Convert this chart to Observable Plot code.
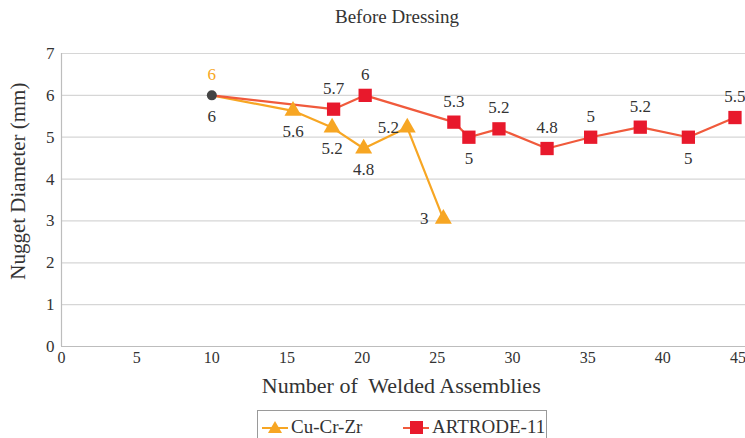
<!DOCTYPE html>
<html><head><meta charset="utf-8">
<script src="https://cdn.jsdelivr.net/npm/d3@7"></script>
<script src="https://cdn.jsdelivr.net/npm/@observablehq/plot@0.6"></script>
<style>
body{margin:0;background:#fff;font-family:"Liberation Serif","DejaVu Serif",serif;}
#wrap{position:relative;width:745px;height:438px;overflow:hidden;background:#fff;}
#title{position:absolute;left:0;top:0;width:745px;height:32px;line-height:34px;text-align:center;font-size:19px;color:#333;padding-left:49px;box-sizing:border-box;}
#chart{position:absolute;left:0;top:36px;}
#chart svg, #chart svg text, #chart svg g{font-family:"Liberation Serif","DejaVu Serif",serif !important;font-variant:normal !important;font-variant-numeric:normal !important;}
#legend{position:absolute;left:257px;top:410px;width:290px;height:40px;border:1px solid #9a9a9a;box-sizing:border-box;font-size:19px;color:#333;}
.item{position:absolute;top:4px;display:flex;align-items:center;height:24px;}
.item svg{margin-right:3px;}
</style>
</head><body>
<div id="wrap">
  <div id="title">Before Dressing</div>
  <div id="chart"></div>
  <div id="legend">
    <div class="item" style="left:4px"><svg width="26" height="20"><line x1="0" y1="11" x2="26" y2="11" stroke="#f7a623" stroke-width="2"/><path d="M13,4 L20,16 L6,16 Z" fill="#f7a623"/></svg><span>Cu-Cr-Zr</span></div>
    <div class="item" style="left:145px"><svg width="26" height="20"><line x1="0" y1="11" x2="26" y2="11" stroke="#f05a3c" stroke-width="2"/><rect x="7" y="4" width="13" height="13" fill="#e8192c"/></svg><span>ARTRODE-11</span></div>
  </div>
</div>
<script>
// Cu-Cr-Zr series
const cuX = [10, 15.4, 18.0, 20.1, 23.0, 25.4];
const cuY = [6, 5.63, 5.23, 4.73, 5.23, 3.05];
const cuLabels = ["6", "5.6", "5.2", "4.8", "5.2", "3"];
const cuLabelSide = ["above", "below", "below", "below", "left", "left"];
// ARTRODE-11 series
const arX = [10, 18.1, 20.2, 26.1, 27.1, 29.1, 32.3, 35.2, 38.5, 41.7, 44.8];
const arY = [6, 5.67, 6.0, 5.36, 5.0, 5.2, 4.73, 5.0, 5.24, 5.0, 5.47];
const arLabels = ["6", "5.7", "6", "5.3", "5", "5.2", "4.8", "5", "5.2", "5", "5.5"];
const arLabelSide = ["below", "above", "above", "above", "below", "above", "above", "above", "above", "below", "above"];
// axes
const xTicks = [0, 5, 10, 15, 20, 25, 30, 35, 40, 45];
const yTicks = [0, 1, 2, 3, 4, 5, 6, 7];
const xTitle = "Number of\u00a0 Welded Assemblies";
const yTitle = "Nugget Diameter (mm)";

const ORANGE = "#f7a623", RED = "#e8192c", REDLINE = "#f05a3c", TXT = "#333";
const FONT = "Liberation Serif, DejaVu Serif, serif";

const cu = cuX.map((x, i) => ({x, y: cuY[i], label: cuLabels[i], side: cuLabelSide[i], i}));
const ar = arX.map((x, i) => ({x, y: arY[i], label: arLabels[i], side: arLabelSide[i], i}));

const offs = {above: [0, -21], below: [0, 21], left: [-19, 0]};
function labelMarks(data, fillFn) {
  return Object.entries(offs).map(([side, [dx, dy]]) =>
    Plot.text(data.filter(d => d.side === side), {
      x: "x", y: "y", text: "label", dx, dy,
      fill: fillFn === undefined ? TXT : fillFn,
      fontSize: 17, fontFamily: FONT, fontVariant: "normal", textAnchor: "middle", lineAnchor: "middle"
    }));
}

const chart = Plot.plot({
  width: 745,
  height: 364,
  marginLeft: 61,
  marginRight: 0,
  marginTop: 17,
  marginBottom: 54,
  style: {fontFamily: FONT, background: "#fff", overflow: "visible"},
  x: {domain: [0, 45.5], axis: null},
  y: {domain: [0, 7], axis: null},
  marks: [
    Plot.ruleY(yTicks.filter(v => v > 0), {stroke: "#d6d6d6", strokeWidth: 1.2}),
    Plot.ruleY([0], {stroke: "#bdbdbd", strokeWidth: 1.2}),
    Plot.ruleX([0], {stroke: "#bdbdbd", strokeWidth: 1.2}),
    Plot.axisY(yTicks, {tickSize: 0, tickPadding: 7, fontSize: 17, fontFamily: FONT, fontVariant: "normal", fill: TXT, label: null}),
    Plot.axisX(xTicks, {tickSize: 0, tickPadding: 5, fontSize: 16, fontFamily: FONT, fontVariant: "normal", fill: TXT, label: null}),
    Plot.line(cu, {x: "x", y: "y", stroke: ORANGE, strokeWidth: 2.2}),
    Plot.line(ar, {x: "x", y: "y", stroke: REDLINE, strokeWidth: 2.2}),
    Plot.dot(cu.slice(1), {x: "x", y: "y", symbol: "triangle", fill: ORANGE, r: 6.3}),
    Plot.dot(ar.slice(1), {x: "x", y: "y", symbol: "square", fill: RED, r: 7.5}),
    Plot.dot(ar.slice(0, 1), {x: "x", y: "y", fill: "#444", r: 5}),
    ...labelMarks(cu.filter(d => d.i === 0), ORANGE),
    ...labelMarks(cu.filter(d => d.i > 0)),
    ...labelMarks(ar),
    Plot.text([yTitle], {frameAnchor: "left", y: () => 3.95, text: d => d, dx: -43, rotate: -90,
      fontSize: 21, fontFamily: FONT, fill: TXT, textAnchor: "middle", lineAnchor: "middle"}),
    Plot.text([xTitle], {frameAnchor: "bottom", x: () => 22.6, text: d => d, dy: 39,
      fontSize: 22, fontFamily: FONT, fill: TXT, textAnchor: "middle", lineAnchor: "middle"})
  ]
});
document.getElementById("chart").appendChild(chart);
</script>
</body></html>
